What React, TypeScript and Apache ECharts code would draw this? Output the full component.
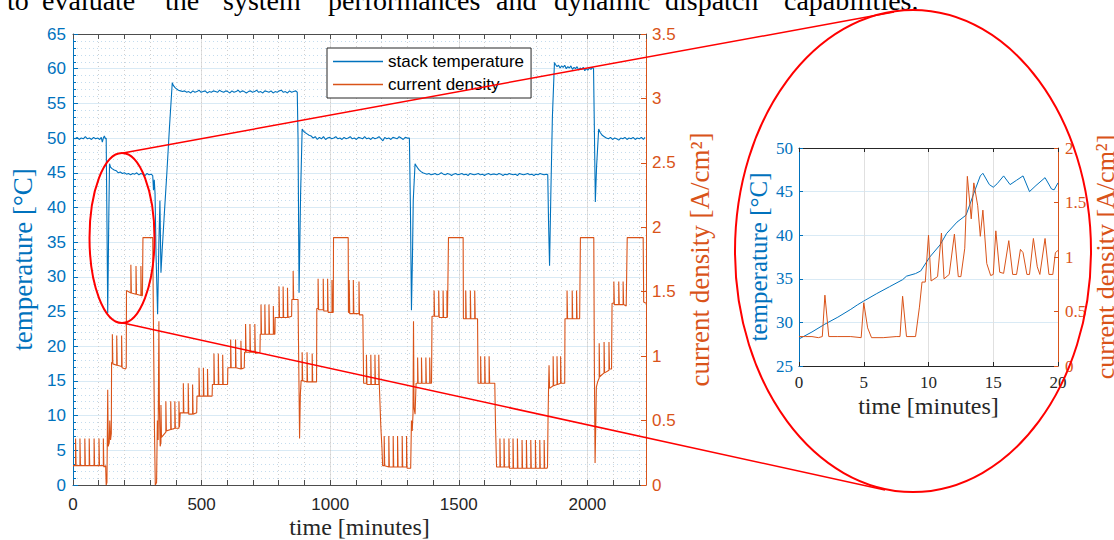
import { useEffect, useRef } from "react";
import * as echarts from "echarts";

// ---------------- data ----------------
const mainTimeTicks = [0, 500, 1000, 1500, 2000];

const stackTemperature: [number, number][] = [
  [0,50.0],[8,49.9],[16,50.1],[24,49.8],[32,50.0],[40,49.9],[48,50.2],[56,49.9],[64,50.0],[72,49.8],[80,50.1],[88,49.9],[96,50.0],[104,49.8],[110,50.1],[114,49.4],[118,50.0],[122,50.3],[126,49.9],[129,50.0],
  [132,38],[135,24.8],[139,38],[142,46.3],
  [146,45.8],[152,45.6],[160,45.4],[168,45.3],[176,45.0],[184,45.1],[192,44.9],[200,45.0],[208,44.8],[216,44.9],[224,44.7],[232,44.9],[240,44.8],[248,45.0],[256,44.7],[264,44.9],[272,44.8],[280,44.6],[288,44.9],[296,44.7],[304,44.8],[310,44.6],
  [313,42.5],[316,44.0],[319,42],[323,33],[329,24.6],[334,35],[338,41],[342,30.6],[347,34],[355,39],[365,45],[375,51.5],[386,58.0],
  [390,57.6],[396,57.3],[402,57.1],[410,56.9],[418,56.8],[426,56.7],[434,56.8],[442,56.6],[450,56.7],[458,56.5],[466,56.8],[474,56.6],[482,56.7],[490,56.9],[498,56.6],[506,56.7],[514,56.8],[522,56.5],[530,56.7],[538,56.6],[546,56.8],[554,56.7],[562,56.6],[570,56.9],[578,56.7],[586,56.6],[594,56.8],[602,56.7],[610,56.5],[618,56.8],[626,56.6],[634,56.7],[642,56.9],[650,56.6],[658,56.8],[666,56.7],[674,56.5],[682,56.7],[690,56.8],[698,56.6],[706,56.7],[714,56.9],[722,56.6],[730,56.7],[738,56.5],[746,56.8],[754,56.7],[762,56.6],[770,56.8],[778,56.5],[786,56.7],[794,56.6],[802,56.8],[810,56.9],[818,56.6],[826,56.7],[834,56.5],[842,56.8],[850,56.6],[858,56.7],[866,56.8],[872,56.6],
  [875,50],[879,27.7],[885,42],[891,51.3],[896,51.0],[902,50.8],[910,50.6],[918,50.4],[926,50.3],[934,50.0],[942,50.2],[950,49.8],[958,50.1],[966,49.9],[974,50.2],[982,49.8],[990,50.0],[998,50.1],[1006,49.9],[1014,50.0],[1022,50.2],[1030,49.9],[1038,50.0],[1046,49.8],[1054,50.1],[1062,49.9],[1070,50.0],[1078,50.2],[1086,49.9],[1094,50.0],[1102,49.8],[1110,50.1],[1118,50.0],[1126,49.9],[1134,50.2],[1142,49.9],[1150,50.0],[1158,49.8],[1166,50.1],[1174,49.9],[1182,50.0],[1190,50.2],[1198,49.9],[1205,49.6],[1212,50.1],[1220,49.9],[1228,50.0],[1236,49.8],[1244,50.1],[1252,50.0],[1260,49.9],[1268,50.2],[1276,50.0],[1284,49.8],[1292,50.1],[1300,50.0],[1308,50.0],
  [1312,40],[1316,25.2],[1320,33],[1323,41],[1330,46.3],
  [1336,45.9],[1344,45.5],[1352,45.2],[1360,45.0],[1368,44.9],[1376,44.8],[1384,44.9],[1392,44.7],[1400,44.8],[1408,44.9],[1416,44.7],[1424,44.8],[1432,45.0],[1440,44.8],[1448,44.7],[1456,44.9],[1464,44.8],[1472,44.6],[1480,44.8],[1488,44.9],[1496,44.7],[1504,44.8],[1512,44.9],[1520,44.7],[1528,44.8],[1536,44.6],[1544,44.9],[1552,44.8],[1560,44.7],[1568,44.8],[1576,44.9],[1584,44.7],[1592,44.8],[1600,44.6],[1608,44.8],[1616,44.9],[1624,44.7],[1632,44.8],[1640,44.8],[1648,44.7],[1656,44.9],[1664,44.8],[1672,44.6],[1680,44.8],[1688,44.7],[1696,44.9],[1704,44.8],[1712,44.7],[1720,44.8],[1728,44.6],[1736,44.9],[1744,44.8],[1752,44.7],[1760,44.8],[1768,44.9],[1776,44.7],[1784,44.8],[1792,44.6],[1800,44.8],[1808,44.7],[1816,44.9],[1824,44.8],[1832,44.7],[1840,44.8],[1846,44.7],
  [1849,38],[1853,31.6],[1858,42],[1864,53],[1872,60.9],
  [1876,60.6],[1882,60.3],[1888,60.5],[1894,60.1],[1900,60.4],[1906,60.2],[1912,60.5],[1918,60.0],[1924,60.3],[1930,60.1],[1936,60.4],[1942,59.9],[1948,60.2],[1954,60.0],[1960,60.3],[1966,59.8],[1972,60.1],[1978,59.9],[1984,60.2],[1990,59.7],[1996,60.0],[2002,59.8],[2008,60.1],[2014,59.9],[2020,60.2],[2024,60.0],
  [2027,52],[2031,40.8],[2036,46],[2044,51.3],[2050,50.8],[2058,50.4],[2066,50.2],[2074,50.0],[2082,49.9],[2090,50.1],[2098,49.8],[2106,50.0],[2114,49.9],[2122,49.7],[2130,50.0],[2138,49.9],[2146,50.1],[2154,49.8],[2162,50.0],[2170,49.9],[2178,50.1],[2186,49.8],[2194,50.0],[2202,49.9],[2210,50.1],[2218,49.8],[2224,50.1],
];

const currentDensity: [number, number][] = [
  [0,0.15],[10,0.15],[10,0.36],[12,0.36],[12,0.15],[27,0.15],[27,0.36],[29,0.36],[29,0.15],[46,0.15],[46,0.36],[48,0.36],[48,0.15],[63,0.15],[63,0.36],[65,0.36],[65,0.15],[82,0.15],[82,0.36],[84,0.36],[84,0.15],[101,0.15],[101,0.36],[103,0.36],[103,0.15],[118,0.15],[118,0.36],[120,0.36],[120,0.14],[127,0.15],
  [129,0.0],[132,0.02],[135,0.74],[137,0.3],[141,0.33],[143,0.5],[146,0.35],[149,0.4],[150,0.95],
  [153,0.95],[153,1.17],[155,1.17],[155,0.94],[170,0.93],[170,1.16],[172,1.16],[172,0.93],[189,0.92],[189,1.16],[191,1.16],[191,0.91],[204,0.9],
  [207,0.91],[208,1.51],[225,1.49],[225,1.71],[227,1.71],[227,1.49],[245,1.48],[245,1.70],[247,1.70],[247,1.48],[264,1.47],[264,1.70],[266,1.70],[266,1.47],[270,1.47],
  [272,1.92],[310,1.92],[313,1.2],[317,0.4],[320,0.0],[325,0.02],[328,0.5],[331,0.35],[334,1.27],[336,0.6],[339,0.3],[342,0.33],[342,0.62],[344,0.62],[344,0.37],
  [361,0.41],[361,0.65],[363,0.65],[363,0.42],[380,0.43],[380,0.65],[382,0.65],[382,0.43],[396,0.44],[396,0.65],[398,0.65],[398,0.44],[412,0.44],[412,0.65],[414,0.65],[414,0.45],[416,0.45],
  [417,0.56],[429,0.56],[429,0.79],[431,0.79],[431,0.56],[448,0.56],[448,0.79],[450,0.79],[450,0.55],[465,0.55],[465,0.78],[467,0.78],[467,0.55],[481,0.56],
  [482,0.69],[490,0.69],[490,0.91],[492,0.91],[492,0.69],[507,0.69],[507,0.91],[509,0.91],[509,0.69],[523,0.69],[523,0.90],[525,0.90],[525,0.69],[541,0.69],
  [542,0.78],[548,0.78],[548,1.02],[550,1.02],[550,0.78],[565,0.78],[565,1.02],[567,1.02],[567,0.78],[582,0.78],[582,1.01],[584,1.01],[584,0.78],[601,0.78],
  [602,0.91],[613,0.91],[613,1.13],[615,1.13],[615,0.91],[632,0.91],[632,1.13],[634,1.13],[634,0.91],[653,0.9],[653,1.12],[655,1.12],[655,0.9],[666,0.91],
  [667,1.03],[671,1.03],[671,1.25],[673,1.25],[673,1.03],[688,1.03],[688,1.25],[690,1.25],[690,1.03],[707,1.03],[707,1.25],[709,1.25],[709,1.02],[727,1.03],
  [728,1.17],[731,1.17],[731,1.40],[733,1.40],[733,1.17],[746,1.17],[746,1.40],[748,1.40],[748,1.17],[762,1.17],[762,1.40],[764,1.40],[764,1.17],[779,1.17],[779,1.39],[781,1.39],[781,1.17],[785,1.17],
  [786,1.30],[801,1.30],[801,1.54],[803,1.54],[803,1.30],[817,1.30],[817,1.54],[819,1.54],[819,1.30],[834,1.30],[834,1.53],[836,1.53],[836,1.30],[850,1.31],
  [851,1.44],[856,1.44],[856,1.66],[858,1.66],[858,1.44],[875,1.44],
  [878,0.9],[881,0.36],[884,0.7],[887,0.81],
  [891,0.81],[891,1.03],[893,1.03],[893,0.81],[910,0.8],[910,1.03],[912,1.03],[912,0.8],[930,0.8],[930,1.02],[932,1.02],[932,0.8],[947,0.8],
  [948,1.37],[953,1.37],[953,1.60],[955,1.60],[955,1.36],[973,1.36],[973,1.60],[975,1.60],[975,1.35],[990,1.35],[990,1.60],[992,1.60],[992,1.34],[1007,1.34],[1007,1.59],[1009,1.59],[1009,1.34],[1012,1.34],
  [1013,1.92],[1070,1.92],
  [1071,1.34],[1074,1.34],[1074,1.59],[1076,1.59],[1076,1.33],[1090,1.33],[1090,1.59],[1092,1.59],[1092,1.33],[1112,1.33],[1112,1.58],[1114,1.58],[1114,1.32],[1127,1.32],
  [1130,0.79],[1141,0.79],[1141,1.01],[1143,1.01],[1143,0.78],[1158,0.78],[1158,1.01],[1160,1.01],[1160,0.78],[1174,0.78],[1174,1.01],[1176,1.01],[1176,0.78],[1189,0.78],[1189,1.01],[1191,1.01],[1191,0.78],[1193,0.78],
  [1197,0.45],[1201,0.3],[1204,0.15],
  [1210,0.15],[1210,0.38],[1212,0.38],[1212,0.15],[1228,0.14],[1228,0.38],[1230,0.38],[1230,0.14],[1245,0.14],[1245,0.38],[1247,0.38],[1247,0.14],[1262,0.14],[1262,0.38],[1264,0.38],[1264,0.14],[1280,0.14],[1280,0.38],[1282,0.38],[1282,0.14],[1297,0.14],[1297,0.38],[1299,0.38],[1299,0.13],[1313,0.13],
  [1316,0.5],[1319,0.42],[1322,0.55],[1324,1.27],[1326,0.6],[1330,0.55],[1334,0.79],
  [1340,0.79],[1340,0.99],[1342,0.99],[1342,0.79],[1355,0.79],[1355,0.99],[1357,0.99],[1357,0.79],[1372,0.79],[1372,0.99],[1374,0.99],[1374,0.79],[1387,0.79],[1387,0.99],[1389,0.99],[1389,0.79],[1394,0.79],
  [1396,1.31],[1404,1.31],[1404,1.51],[1406,1.51],[1406,1.31],[1422,1.31],[1422,1.51],[1424,1.51],[1424,1.30],[1439,1.30],[1439,1.51],[1441,1.51],[1441,1.30],[1454,1.30],[1454,1.51],[1456,1.51],[1456,1.30],[1458,1.30],
  [1460,1.92],[1517,1.92],
  [1518,1.29],[1527,1.29],[1527,1.51],[1529,1.51],[1529,1.29],[1545,1.29],[1545,1.51],[1547,1.51],[1547,1.29],[1562,1.29],[1562,1.51],[1564,1.51],[1564,1.29],[1573,1.29],
  [1575,0.79],[1585,0.79],[1585,1.0],[1587,1.0],[1587,0.79],[1601,0.79],[1601,1.0],[1603,1.0],[1603,0.79],[1618,0.79],[1618,1.0],[1620,1.0],[1620,0.79],[1640,0.79],
  [1643,0.45],[1647,0.14],[1660,0.14],[1660,0.36],[1662,0.36],[1662,0.14],[1676,0.14],[1676,0.36],[1678,0.36],[1678,0.14],[1695,0.14],[1695,0.36],[1697,0.36],[1697,0.13],[1711,0.13],[1711,0.36],[1713,0.36],[1713,0.13],[1728,0.13],[1728,0.36],[1730,0.36],[1730,0.13],[1746,0.13],[1746,0.35],[1748,0.35],[1748,0.13],[1763,0.13],[1763,0.35],[1765,0.35],[1765,0.13],[1780,0.13],[1780,0.35],[1782,0.35],[1782,0.13],[1798,0.13],[1798,0.35],[1800,0.35],[1800,0.13],[1815,0.13],[1815,0.35],[1817,0.35],[1817,0.13],[1832,0.13],[1832,0.35],[1834,0.35],[1834,0.13],[1843,0.13],
  [1845,0.14],[1847,0.5],[1849,0.74],[1851,0.74],[1851,0.93],[1853,0.93],[1853,0.75],[1867,0.77],[1867,1.0],[1869,1.0],[1869,0.77],[1882,0.78],[1882,1.0],[1884,1.0],[1884,0.78],[1896,0.79],[1896,1.0],[1898,1.0],[1898,0.79],[1912,0.79],
  [1913,1.29],[1921,1.29],[1921,1.51],[1923,1.51],[1923,1.29],[1941,1.29],[1941,1.51],[1943,1.51],[1943,1.29],[1958,1.29],[1958,1.51],[1960,1.51],[1960,1.29],[1970,1.29],
  [1973,1.92],[2025,1.92],
  [2027,1.0],[2030,0.17],[2033,0.5],[2035,0.76],[2040,0.8],[2046,0.83],[2046,1.1],[2048,1.1],[2048,0.84],[2065,0.87],[2065,1.11],[2067,1.11],[2067,0.87],[2084,0.89],[2084,1.11],[2086,1.11],[2086,0.9],[2094,0.9],
  [2096,1.41],[2103,1.41],[2103,1.58],[2105,1.58],[2105,1.40],[2122,1.40],[2122,1.58],[2124,1.58],[2124,1.40],[2139,1.40],[2139,1.58],[2141,1.58],[2141,1.40],[2151,1.39],
  [2155,1.92],[2217,1.92],[2219,1.42],[2228,1.41],
];

const insetTemperature: [number, number][] = [
  [0,28.1],[1,28.9],[2,29.8],[3,30.6],[4,31.5],[4.5,32.0],[5,32.45],[6,33.3],[7,34.1],[8,34.9],[8.3,35.3],[9,35.6],[9.4,35.9],[10.1,37.5],[10.9,38.9],[11.4,40.2],[12.2,41.5],[12.9,42.3],[13.5,44.8],[14,46.8],[14.2,47.1],[14.7,45.8],[15,45.5],[15.3,45.9],[15.8,46.8],[16.3,45.8],[16.8,46.3],[17.3,46.8],[17.8,45.0],[18.3,45.7],[19.0,46.6],[19.5,45.3],[19.7,45.2],[20,46.0],
];

const insetCurrent: [number, number][] = [
  [0,0.27],[0.5,0.27],[1,0.27],[1.5,0.26],[1.8,0.27],[2.0,0.65],[2.3,0.27],[3,0.27],[4,0.27],[4.8,0.26],[5.0,0.58],[5.3,0.35],[5.6,0.26],[6.5,0.26],[7.5,0.27],[7.8,0.27],[8.0,0.64],[8.3,0.27],[9.0,0.27],[9.3,0.54],[9.5,0.77],[9.75,0.77],[10.0,1.2],[10.2,0.78],[10.7,0.82],[11.0,1.22],[11.2,0.8],[11.6,0.84],[12.0,1.21],[12.3,0.82],[12.5,0.82],[12.8,1.08],[13.0,1.74],[13.3,1.35],[13.5,1.68],[13.8,1.47],[14.0,1.19],[14.2,1.43],[14.5,0.94],[14.8,0.83],[15.0,0.84],[15.2,1.24],[15.5,0.86],[15.8,0.85],[16.2,1.15],[16.5,0.84],[16.8,0.84],[17.1,1.07],[17.3,1.04],[17.6,0.84],[17.8,0.84],[18.1,1.17],[18.4,0.91],[18.6,0.84],[19.0,1.17],[19.3,0.84],[19.6,0.84],[19.8,1.04],[20,1.06],
];

const headerWords: [string, number][] = [
  ["to", 7], ["evaluate", 42], ["the", 165], ["system", 223], ["performances", 328],
  ["and", 496], ["dynamic", 554], ["dispatch", 665], ["capabilities.", 784],
];

// ---------------- styles ----------------
const BLUE = "#0072BD";
const ORANGE = "#D95319";
const AXIS = "#4d4d4d";
const SANS = "Liberation Sans";
const SERIF = "Liberation Serif";
const GRID_GRAY = "#e0e0e0";
const GRID_BLUE = "#d9eaf5";
const MINOR_GRAY = "#cfcfcf";
const MINOR_BLUE = "#c4dcee";

export default function App() {
  const ref = useRef<HTMLDivElement>(null);

  useEffect(() => {
    document.body.style.margin = "0";
    const chart = echarts.init(ref.current!, undefined, { renderer: "svg" });
    const T = "transparent";
    const noZero = { onZero: false };

    const option: any = {
      animation: false,
      backgroundColor: "#ffffff",
      grid: [
        { left: 73, top: 34, width: 573, height: 451, containLabel: false, outerBoundsMode: "none" },
        { left: 799, top: 148, width: 259, height: 218, containLabel: false, outerBoundsMode: "none" },
      ],
      legend: {
        data: ["stack temperature", "current density"],
        left: 327,
        top: 48,
        orient: "vertical",
        icon: "rect",
        padding: [5, 7, 5, 6],
        itemGap: 6,
        itemWidth: 50,
        itemHeight: 1.5,
        borderColor: "#262626",
        borderWidth: 1,
        backgroundColor: "#ffffff",
        textStyle: { fontSize: 17, lineHeight: 17, fontFamily: SANS, color: "#000" },
        z: 5,
      },
      xAxis: [
        {
          type: "value", gridIndex: 0, position: "bottom", min: 0, max: 2228, interval: 100,
          axisLine: { ...noZero, show: true, lineStyle: { color: AXIS } },
          axisTick: { show: true, inside: true, length: 5, lineStyle: { color: AXIS } },
          axisLabel: {
            show: true, interval: 0, margin: 11, color: "#262626", fontSize: 17, fontFamily: SANS,
            formatter: (v: number) => (mainTimeTicks.includes(v) ? String(v) : ""),
            showMaxLabel: false,
          },
          splitLine: { show: true, lineStyle: { color: [GRID_GRAY, T, T, T, T], width: 1 } },
          name: "time [minutes]", nameLocation: "middle", nameGap: 30, nameMoveOverlap: false,
          nameTextStyle: { fontFamily: SERIF, fontSize: 24, color: "#262626" },
        },
        {
          type: "value", gridIndex: 0, position: "top", min: 0, max: 2228, interval: 100,
          axisLine: { ...noZero, show: true, lineStyle: { color: AXIS } },
          axisTick: { show: true, inside: true, length: 5, lineStyle: { color: AXIS } },
          axisLabel: { show: false },
          splitLine: { show: true, lineStyle: { color: MINOR_GRAY, type: [1, 3], width: 1 } },
        },
        {
          type: "value", gridIndex: 1, position: "bottom", min: 0, max: 20, interval: 5,
          axisLine: { ...noZero, show: true, lineStyle: { color: "#262626" } },
          axisTick: { show: true, inside: true, length: 4, lineStyle: { color: "#262626" } },
          axisLabel: { margin: 8, color: "#262626", fontSize: 17, fontFamily: SERIF },
          splitLine: { show: true, lineStyle: { color: GRID_GRAY } },
          name: "time [minutes]", nameLocation: "middle", nameGap: 28,
          nameTextStyle: { fontFamily: SERIF, fontSize: 24, color: "#262626" },
        },
        {
          type: "value", gridIndex: 1, position: "top", min: 0, max: 20, interval: 5,
          axisLine: { ...noZero, show: true, lineStyle: { color: "#262626" } },
          axisTick: { show: true, inside: true, length: 4, lineStyle: { color: "#262626" } },
          axisLabel: { show: false },
          splitLine: { show: false },
        },
      ],
      yAxis: [
        {
          type: "value", gridIndex: 0, position: "left", min: 0, max: 65, interval: 5,
          axisLine: { ...noZero, show: true, lineStyle: { color: BLUE } },
          axisTick: { show: true, inside: true, length: 5, lineStyle: { color: BLUE } },
          minorTick: { show: true, splitNumber: 5, length: 3, lineStyle: { color: BLUE } },
          axisLabel: { margin: 7, color: BLUE, fontSize: 17, fontFamily: SANS },
          splitLine: { show: true, lineStyle: { color: GRID_BLUE } },
          minorSplitLine: { show: true, lineStyle: { color: MINOR_BLUE, type: [1, 3] } },
          name: "temperature [°C]", nameLocation: "middle", nameGap: 34,
          nameTextStyle: { fontFamily: SERIF, fontSize: 27, color: BLUE },
        },
        {
          type: "value", gridIndex: 0, position: "right", min: 0, max: 3.5, interval: 0.5,
          axisLine: { ...noZero, show: true, lineStyle: { color: ORANGE } },
          axisTick: { show: true, inside: true, length: 5, lineStyle: { color: ORANGE } },
          axisLabel: { margin: 6, color: ORANGE, fontSize: 17, fontFamily: SANS },
          splitLine: { show: false },
          name: "current density [A/cm²]", nameLocation: "middle", nameGap: 40,
          nameTextStyle: { fontFamily: SERIF, fontSize: 27, color: ORANGE },
        },
        {
          type: "value", gridIndex: 1, position: "left", min: 25, max: 50, interval: 5,
          axisLine: { ...noZero, show: true, lineStyle: { color: BLUE } },
          axisTick: { show: true, inside: true, length: 4, lineStyle: { color: BLUE } },
          axisLabel: { margin: 6, color: BLUE, fontSize: 17, fontFamily: SERIF },
          splitLine: { show: true, lineStyle: { color: GRID_BLUE } },
          name: "temperature [°C]", nameLocation: "middle", nameGap: 28,
          nameTextStyle: { fontFamily: SERIF, fontSize: 25, color: BLUE },
        },
        {
          type: "value", gridIndex: 1, position: "right", min: 0, max: 2, interval: 0.5,
          axisLine: { ...noZero, show: true, lineStyle: { color: ORANGE } },
          axisTick: { show: true, inside: true, length: 4, lineStyle: { color: ORANGE } },
          axisLabel: { margin: 7, color: ORANGE, fontSize: 17, fontFamily: SERIF },
          splitLine: { show: false },
          name: "current density [A/cm²]", nameLocation: "middle", nameGap: 34,
          nameTextStyle: { fontFamily: SERIF, fontSize: 26, color: ORANGE },
        },
      ],
      series: [
        {
          name: "stack temperature", type: "line", xAxisIndex: 0, yAxisIndex: 0,
          data: stackTemperature, symbol: "none", color: BLUE,
          lineStyle: { width: 1.1, color: BLUE },
        },
        {
          name: "current density", type: "line", xAxisIndex: 0, yAxisIndex: 1,
          data: currentDensity, symbol: "none", color: ORANGE,
          lineStyle: { width: 1.1, color: ORANGE },
        },
        {
          name: "inset temperature", type: "line", xAxisIndex: 2, yAxisIndex: 2,
          data: insetTemperature, symbol: "none", color: BLUE,
          lineStyle: { width: 1, color: BLUE },
        },
        {
          name: "inset current density", type: "line", xAxisIndex: 2, yAxisIndex: 3,
          data: insetCurrent, symbol: "none", color: ORANGE,
          lineStyle: { width: 1, color: ORANGE },
        },
      ],
      graphic: [
        ...headerWords.map(([w, x]) => ({
          type: "text", x, y: 0, z: 100, silent: true,
          style: { text: w, fontSize: 28, fontFamily: SERIF, fill: "#000", align: "left", verticalAlign: "middle" },
        })),
        {
          type: "ellipse", z: 100, silent: true,
          shape: { cx: 122, cy: 238, rx: 32.5, ry: 85 },
          style: { fill: "none", stroke: "#ff0000", lineWidth: 2 },
        },
        {
          type: "ellipse", z: 100, silent: true,
          shape: { cx: 913, cy: 251, rx: 178, ry: 241 },
          style: { fill: "none", stroke: "#ff0000", lineWidth: 2 },
        },
        {
          type: "line", z: 100, silent: true,
          shape: { x1: 123, y1: 153, x2: 894, y2: 12 },
          style: { stroke: "#ff0000", lineWidth: 1.5 },
        },
        {
          type: "line", z: 100, silent: true,
          shape: { x1: 123, y1: 323, x2: 885, y2: 490 },
          style: { stroke: "#ff0000", lineWidth: 1.5 },
        },
      ],
    };

    chart.setOption(option);
    return () => chart.dispose();
  }, []);

  return <div ref={ref} style={{ width: 1114, height: 540 }} />;
}
